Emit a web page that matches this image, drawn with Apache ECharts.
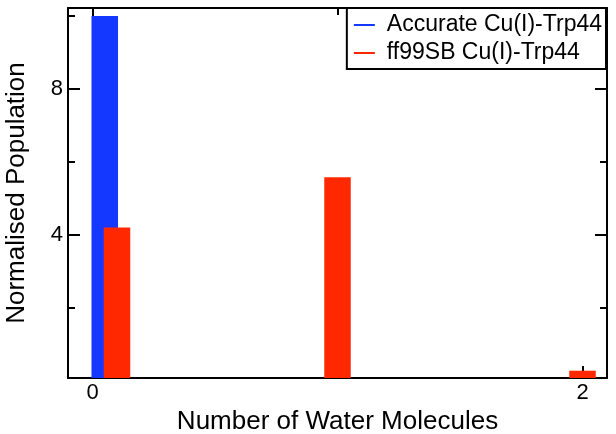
<!DOCTYPE html>
<html>
<head>
<meta charset="utf-8">
<script src="https://cdn.jsdelivr.net/npm/echarts@6/dist/echarts.min.js"></script>
<style>
  html, body { margin: 0; padding: 0; background: #fff; }
  #chart { width: 616px; height: 434px; }
</style>
<title>Water molecules</title>
</head>
<body>
<div id="chart"></div>
<script>
// data
var seriesNames = ['Accurate Cu(I)-Trp44', 'ff99SB Cu(I)-Trp44'];
var accurateX = [0.05];
var accurateY = [10.0];
var ff99X = [0.1, 1, 2];
var ff99Y = [4.2, 5.58, 0.27];
var xMajorTicks = [0, 2];
var xMinorTicks = [1];
var yMajorTicks = [4, 8];
var yMinorTicks = [2, 6, 10];

var FONT = '"Liberation Sans", Arial, Helvetica, sans-serif';
var xMin = -0.1, xMax = 2.1;
var yMin = 0.07, yMax = 10.22;

function pairs(xs, ys) {
  var out = [];
  for (var i = 0; i < xs.length; i++) out.push([xs[i], ys[i]]);
  return out;
}

// one helper for the frame axes: ticks inside, optional labels
function xAx(pos, ticks, len, labels, line) {
  return {
    type: 'value', position: pos, min: xMin, max: xMax,
    axisLine: { show: line, onZero: false, lineStyle: { color: '#000', width: 2 } },
    axisTick: { show: true, inside: true, length: len, customValues: ticks, lineStyle: { color: '#000', width: 2 } },
    axisLabel: labels ? { show: true, customValues: labels, margin: 4, color: '#000', fontSize: 22, fontFamily: FONT } : { show: false },
    splitLine: { show: false }
  };
}
function yAx(pos, ticks, len, labels, line) {
  return {
    type: 'value', position: pos, min: yMin, max: yMax,
    axisLine: { show: line, onZero: false, lineStyle: { color: '#000', width: 2 } },
    axisTick: { show: true, inside: true, length: len, customValues: ticks, lineStyle: { color: '#000', width: 2 } },
    axisLabel: labels ? { show: true, customValues: labels, margin: 5, color: '#000', fontSize: 22, fontFamily: FONT } : { show: false },
    splitLine: { show: false }
  };
}

var xAxes = [
  xAx('bottom', xMajorTicks, 12, xMajorTicks, true),
  xAx('bottom', xMinorTicks, 7, null, false),
  xAx('top', xMajorTicks, 12, null, true),
  xAx('top', xMinorTicks, 7, null, false)
];
xAxes[0].name = 'Number of Water Molecules';
xAxes[0].nameLocation = 'middle';
xAxes[0].nameGap = 20;
xAxes[0].nameTextStyle = { color: '#000', fontSize: 26, fontFamily: FONT };

var yAxes = [
  yAx('left', yMajorTicks, 12, yMajorTicks, true),
  yAx('left', yMinorTicks, 7, null, false),
  yAx('right', yMajorTicks, 12, null, true),
  yAx('right', yMinorTicks, 7, null, false)
];
yAxes[0].name = 'Normalised Population';
yAxes[0].nameLocation = 'middle';
yAxes[0].nameGap = 38;
yAxes[0].nameTextStyle = { color: '#000', fontSize: 26, fontFamily: FONT };

var chart = echarts.init(document.getElementById('chart'), null, { renderer: 'canvas' });
chart.setOption({
  animation: false,
  backgroundColor: '#fff',
  grid: { left: 68, right: 9, top: 8, bottom: 56, containLabel: false, outerBoundsMode: 'none' },
  legend: {
    data: seriesNames,
    orient: 'vertical',
    right: 10, top: 8,
    icon: 'rect', itemWidth: 21, itemHeight: 2,
    itemGap: 4,
    padding: [5, 4, 4, 7],
    backgroundColor: '#fff',
    borderColor: '#000', borderWidth: 2, borderRadius: 0,
    textStyle: { color: '#000', fontSize: 23, fontFamily: FONT, lineHeight: 24, padding: [0, 0, 0, 7] }
  },
  xAxis: xAxes,
  yAxis: yAxes,
  series: [
    {
      name: seriesNames[0], type: 'bar', xAxisIndex: 0, yAxisIndex: 0,
      barWidth: 26.5, barGap: '-100%',
      itemStyle: { color: '#1438ff' },
      data: pairs(accurateX, accurateY)
    },
    {
      name: seriesNames[1], type: 'bar', xAxisIndex: 0, yAxisIndex: 0,
      barWidth: 26.5, barGap: '-100%',
      itemStyle: { color: '#ff2800' },
      data: pairs(ff99X, ff99Y)
    }
  ]
});
</script>
</body>
</html>
